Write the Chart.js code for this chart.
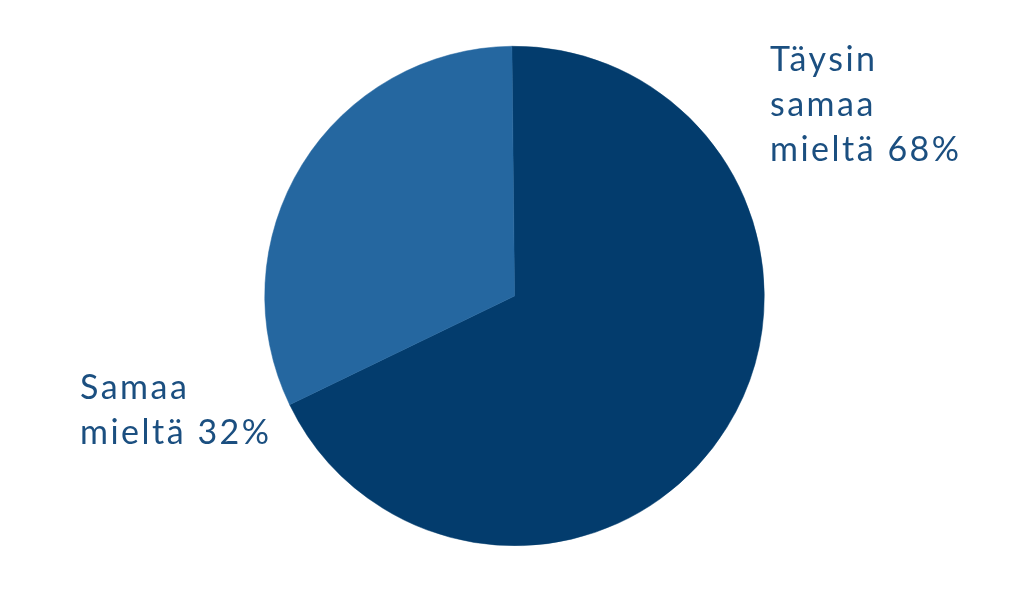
<!DOCTYPE html>
<html lang="fi">
<head>
  <meta charset="UTF-8">
  <title>Pie</title>
  <script src="https://cdn.jsdelivr.net/npm/chart.js"></script>
  <style>
    html, body { margin: 0; padding: 0; background: #fff; }
    .chart-container { position: relative; width: 1024px; height: 600px; }
  </style>
</head>
<body>
  <div class="chart-container">
    <canvas id="myChart"></canvas>
  </div>

<script>
  // data
  const labels = ['Täysin samaa mieltä', 'Samaa mieltä'];
  const values = [68, 32];
  const colors = ['#033c6d', '#2567a0'];

  // label text lines, drawn beside the pie
  const labelLines = [
    ['Täysin', 'samaa', 'mieltä 68%'],
    ['Samaa', 'mieltä 32%']
  ];
  const labelPos = [
    { x: 770, y: 60 },
    { x: 80, y: 388 }
  ];

  const sideLabels = {
    id: 'sideLabels',
    afterDraw(chart) {
      const ctx = chart.ctx;
      ctx.save();
      ctx.fillStyle = '#1b4f80';
      ctx.font = '34px Lato';
      ctx.letterSpacing = '2.5px';
      ctx.textBaseline = 'middle';
      ctx.textAlign = 'left';
      labelLines.forEach((lines, i) => {
        lines.forEach((line, j) => {
          ctx.fillText(line, labelPos[i].x, labelPos[i].y + j * 45);
        });
      });
      ctx.restore();
    }
  };

  const ctx = document.getElementById('myChart');

  const chart = new Chart(ctx, {
    type: 'pie',
    data: {
      labels: labels,
      datasets: [{
        data: values,
        backgroundColor: colors,
        borderColor: colors,
        borderWidth: 0.5
      }]
    },
    options: {
      responsive: true,
      maintainAspectRatio: false,
      animation: false,
      rotation: -0.6,
      layout: {
        padding: { top: 46, bottom: 54, left: 264, right: 259 }
      },
      plugins: {
        legend: { display: false },
        tooltip: { enabled: false }
      }
    },
    plugins: [sideLabels]
  });
</script>
</body>
</html>
